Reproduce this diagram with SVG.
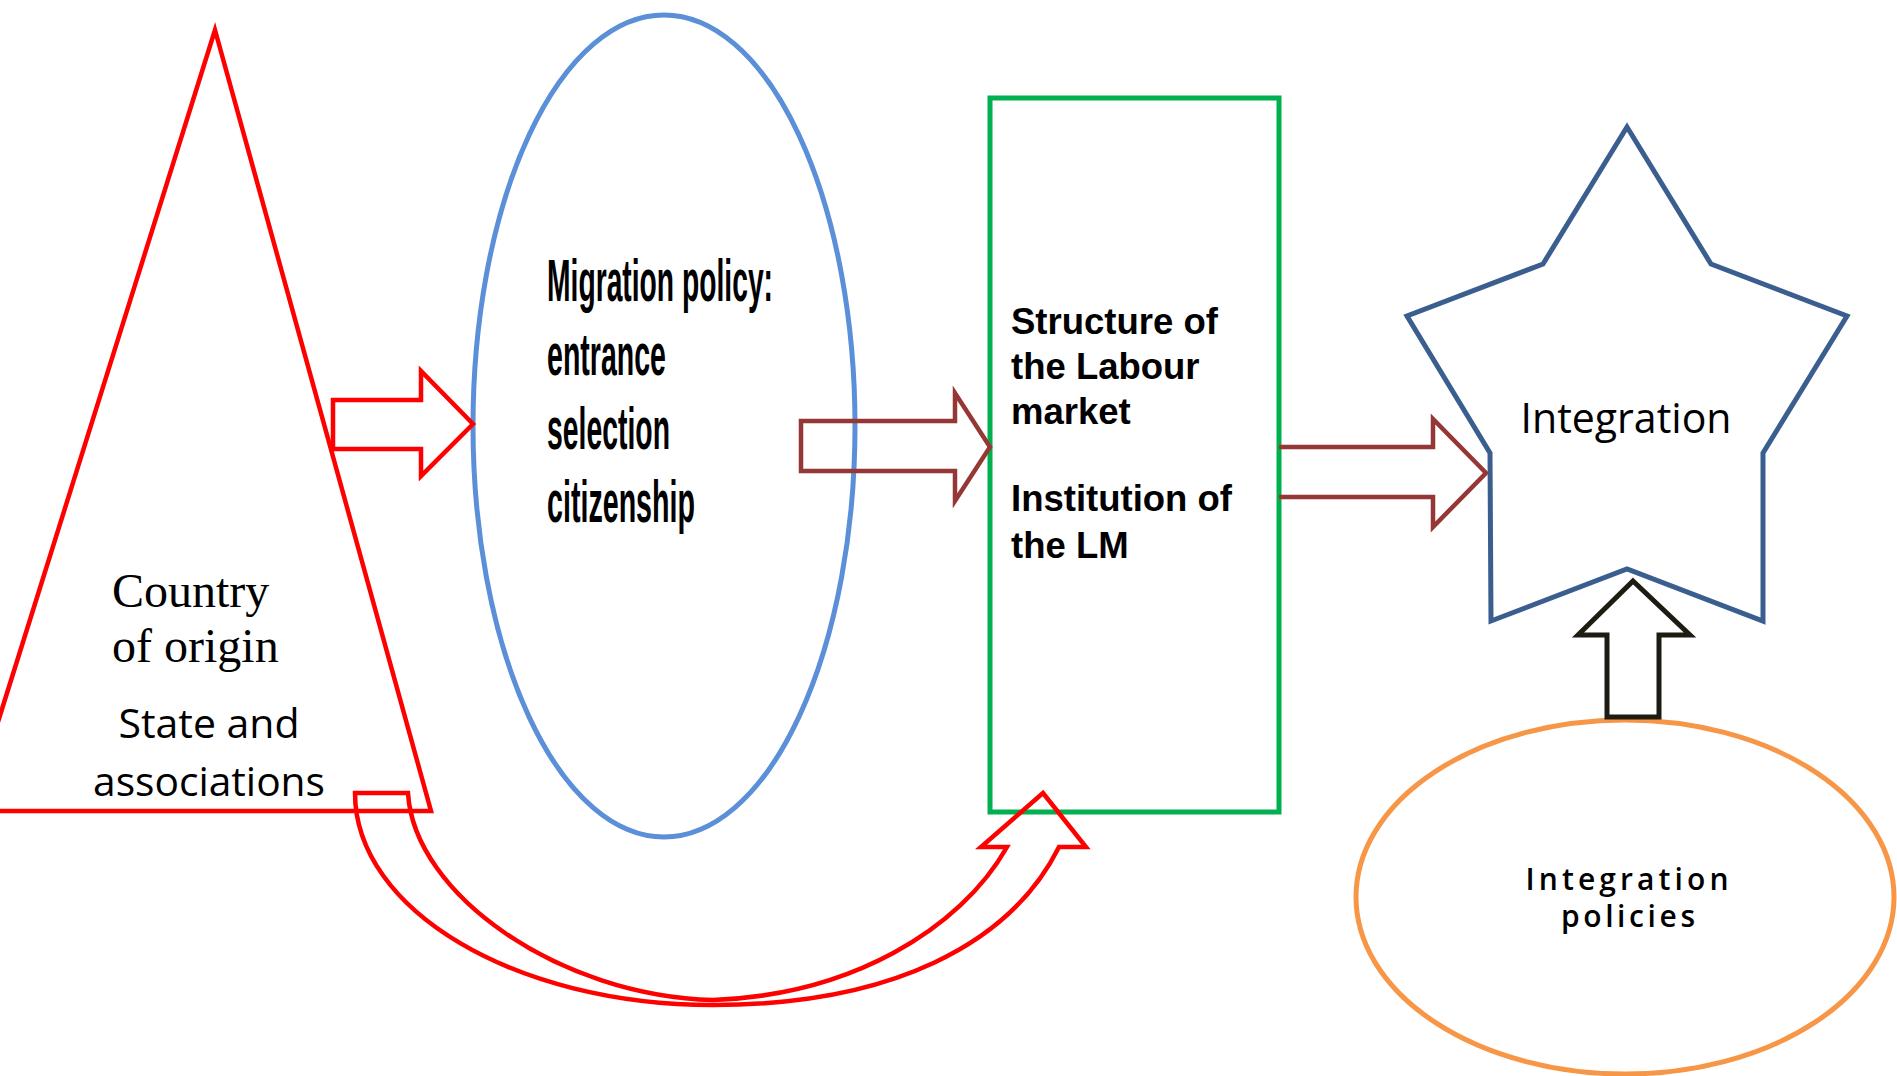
<svg xmlns="http://www.w3.org/2000/svg" width="1897" height="1076" viewBox="0 0 1897 1076">
<style>
.red{fill:none;stroke:#FF0000;stroke-width:4.5;stroke-linejoin:miter}
.brown{fill:none;stroke:#953735;stroke-width:4.5}
.serif{font-family:"Liberation Serif",serif;font-size:48px;fill:#000}
.open{font-family:"Open Sans","Noto Sans",sans-serif;fill:#000}
.bold{font-family:"Liberation Sans",Arial,sans-serif;font-weight:bold;fill:#000}
</style>
<rect x="0" y="0" width="1897" height="1076" fill="#fff"/>
<g id="country">
<path class="red" d="M215,30 L431,811 L-30,811 Z"/>
<text class="serif" x="112" y="607">Country</text>
<text class="serif" x="112" y="662">of origin</text>
<text class="open" font-size="41" x="209" y="738" text-anchor="middle">State and</text>
<text class="open" font-size="41" x="209" y="796" text-anchor="middle" textLength="232" lengthAdjust="spacingAndGlyphs">associations</text>
</g>
<g id="migration">
<ellipse cx="664" cy="426" rx="191" ry="411" fill="none" stroke="#5B8FD8" stroke-width="5"/>
<text class="bold" font-size="59" x="547" y="301" textLength="226" lengthAdjust="spacingAndGlyphs">Migration policy:</text>
<text class="bold" font-size="59" x="547" y="375" textLength="119" lengthAdjust="spacingAndGlyphs">entrance</text>
<text class="bold" font-size="59" x="547" y="449" textLength="123" lengthAdjust="spacingAndGlyphs">selection</text>
<text class="bold" font-size="59" x="547" y="522" textLength="148" lengthAdjust="spacingAndGlyphs">citizenship</text>
</g>
<g id="labour">
<rect x="990" y="98" width="289" height="714" fill="none" stroke="#00B050" stroke-width="5"/>
<text class="bold" font-size="36.5" x="1011" y="334">Structure of</text>
<text class="bold" font-size="36.5" x="1011" y="379">the Labour</text>
<text class="bold" font-size="36.5" x="1011" y="424">market</text>
<text class="bold" font-size="36.5" x="1011" y="511">Institution of</text>
<text class="bold" font-size="36.5" x="1011" y="558">the LM</text>
</g>
<g id="integration">
<path d="M1627,127 L1711,264 L1847,316 L1763,453 L1763,621 L1627,569 L1491,621 L1490,453 L1407,316 L1543,264 Z" fill="none" stroke="#3A5F8F" stroke-width="5"/>
<text class="open" font-size="42" x="1626" y="433" text-anchor="middle" textLength="211" lengthAdjust="spacingAndGlyphs">Integration</text>
</g>
<g id="policies">
<ellipse cx="1625" cy="897" rx="269" ry="177" fill="none" stroke="#F79646" stroke-width="5"/>
<text class="open" font-size="30" font-weight="600" x="1627" y="890" text-anchor="middle" textLength="203" lengthAdjust="spacing">Integration</text>
<text class="open" font-size="30" font-weight="600" x="1628" y="927" text-anchor="middle" textLength="134" lengthAdjust="spacing">policies</text>
</g>
<g id="connectors">
<path class="red" d="M333,400 L421,400 L421,371 L473,424 L421,476 L421,449 L333,449 Z"/>
<path class="brown" d="M801,421 L955,421 L955,393 L990,447 L955,501 L955,471 L801,471 Z"/>
<path class="brown" d="M1279,447 L1433,447 L1433,419 L1486,473 L1433,527 L1433,497 L1279,497"/>
<path d="M1633,581 L1690,635 L1659,635 L1659,717 L1607,717 L1607,635 L1578,635 Z" fill="none" stroke="#1E1B12" stroke-width="5"/>
<path class="red" stroke-linejoin="round" d="M355,793 L408,793 C414,895 560,996 713,1000 C850,995 960,930 1007,847 L981,847 L1043,793 L1086,847 L1059,847 C1010,945 890,1005 713,1005 C515,1005 355,910 355,793 Z"/>
</g>
</svg>
